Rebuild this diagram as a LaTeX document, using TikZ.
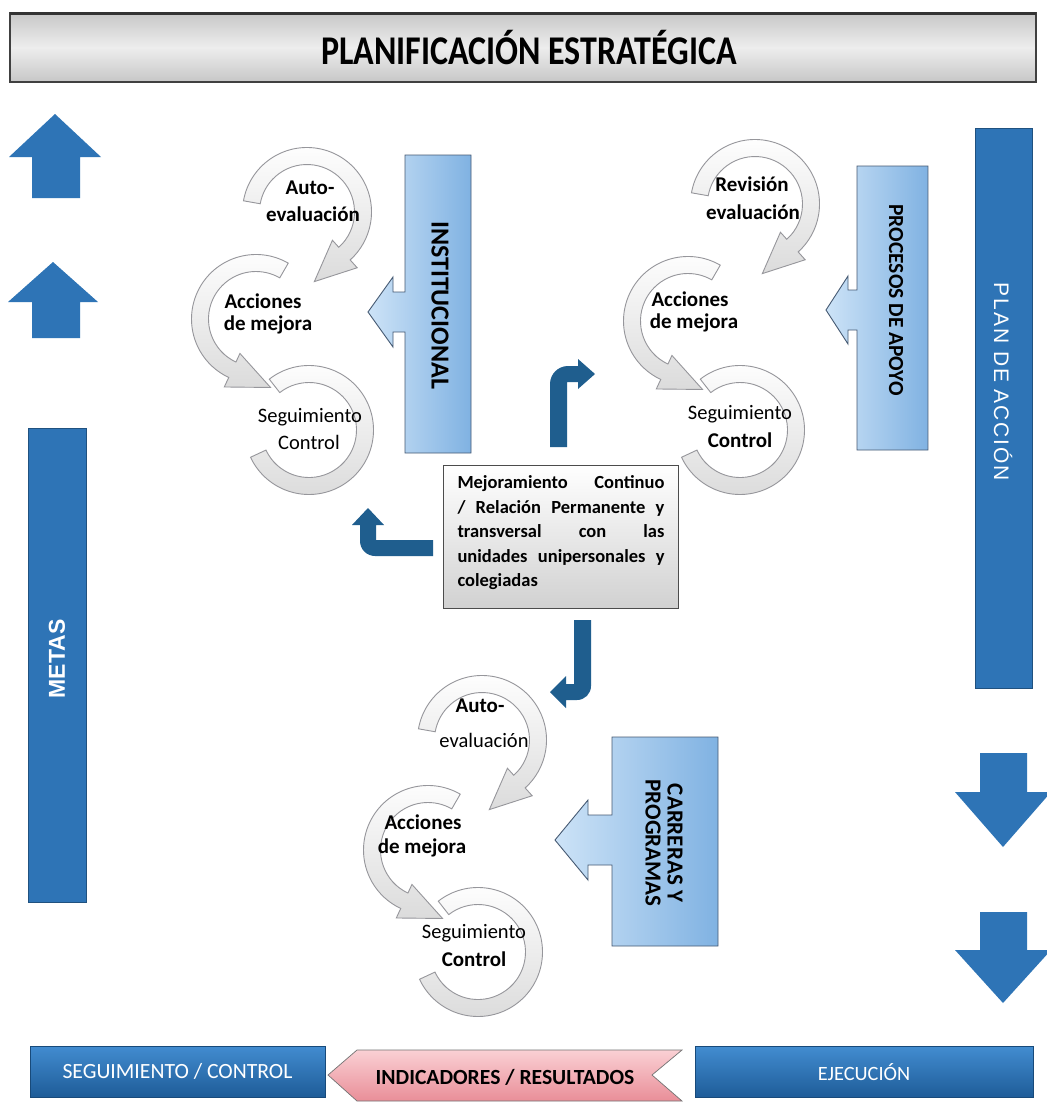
\documentclass[tikz,border=0pt]{standalone}
\usepackage{fontspec}
\setmainfont{Carlito}
\newfontfamily\arialf{Liberation Sans}
\newfontfamily\arialsp[LetterSpace=9]{Liberation Sans}
\definecolor{barblue}{RGB}{46,116,182}
\definecolor{bluetop}{RGB}{66,140,208}
\definecolor{bluebot}{RGB}{30,92,152}
\definecolor{bentblue}{RGB}{31,94,142}
\definecolor{callL}{RGB}{205,227,247}
\definecolor{callR}{RGB}{128,178,226}
\definecolor{callE}{RGB}{70,90,115}
\definecolor{pinktop}{RGB}{250,208,212}
\definecolor{pinkbot}{RGB}{233,142,152}
\definecolor{ringedge}{RGB}{150,150,155}
\tikzset{
  ring/.style={draw=ringedge, line width=0.9pt, top color=white, bottom color=black!14},
  callout/.style={draw=callE, line width=0.9pt, left color=callL, right color=callR},
  bent/.style={fill=bentblue},
  bigarrow/.style={fill=barblue},
  vbar/.style={fill=barblue, draw=barblue!70!black, line width=0.5pt, inner sep=0pt},
  bbox/.style={top color=bluetop, bottom color=bluebot, draw=bluebot!80!black, line width=0.5pt, minimum height=51pt, inner sep=0pt},
  lbl/.style={inner sep=0pt, font=\fontsize{20.5}{22}\selectfont},
  lblb/.style={inner sep=0pt, font=\fontsize{21}{22}\selectfont\bfseries},
}
% ring arrow with head: centre x, centre y, start angle, end angle, tip angle
\newcommand\ringhead[5]{%
  \begin{scope}[shift={(#1,#2)}]
    \path[ring] (#3:64.5) arc[start angle=#3, end angle=#4, radius=64.5]
      -- (#4:75) -- (#5:70) -- (#4:38) -- (#4:47.5)
      arc[start angle=#4, end angle=#3, radius=47.5] -- cycle;
  \end{scope}}
% ring arrow with flat ends
\newcommand\ringflat[4]{%
  \begin{scope}[shift={(#1,#2)}]
    \path[ring] (#3:64.5) arc[start angle=#3, end angle=#4, radius=64.5]
      -- (#4:47.5) arc[start angle=#4, end angle=#3, radius=47.5] -- cycle;
  \end{scope}}
\begin{document}
\begin{tikzpicture}[x=1pt,y=-1pt]
\useasboundingbox (0,0) rectangle (1047,1104);
\fill[white] (0,0) rectangle (1047,1104);

% title bar
\path[top color=black!22, bottom color=black!22, middle color=black!7, draw=black!75, line width=1.2pt] (10,13) rectangle (1036,82);
\draw[black!80, line width=3pt] (10,13) -- (1036,13);
\node[inner sep=0pt, font=\fontsize{34}{36}\selectfont\bfseries, yscale=1.2] (title) at (529,48) {PLANIFICACIÓN ESTRATÉGICA};

% left up arrows
\fill[bigarrow] (55,114) -- (101,157) -- (80,157) -- (80,198) -- (32,198) -- (32,157) -- (9,157) -- cycle;
\fill[bigarrow] (53,262) -- (98,302) -- (80,302) -- (80,338) -- (32,338) -- (32,302) -- (8,302) -- cycle;

% METAS
\node[vbar, minimum width=58pt, minimum height=474pt] (metas) at (57,665) {};
\node[rotate=90, text=white, inner sep=0pt, font=\arialf\bfseries\fontsize{23}{24}\selectfont] (metast) at (57,659) {METAS};

% PLAN DE ACCION
\node[vbar, minimum width=57pt, minimum height=560pt] (plan) at (1003.5,408) {};
\node[rotate=-90, text=white, inner sep=0pt, font=\arialsp\fontsize{21}{24}\selectfont] (plant) at (1003,382) {PLAN DE ACCIÓN};

% right down arrows
\fill[bigarrow] (980,753) -- (1027,753) -- (1027,792) -- (1051,792) -- (1003,847) -- (955,792) -- (980,792) -- cycle;
\fill[bigarrow] (980,912) -- (1027,912) -- (1027,950) -- (1051,950) -- (1003,1003) -- (955,950) -- (980,950) -- cycle;

% rings top-left
\ringflat{309}{430}{232}{515}
\ringhead{256}{319}{300}{115}{78}
\ringhead{307}{212}{190}{408}{444}
% rings top-right
\ringflat{740}{430}{232}{515}
\ringhead{688}{321}{300}{115}{78}
\ringhead{755}{204}{190}{408}{444}
% rings bottom
\ringflat{478}{952}{232}{515}
\ringhead{428}{850}{300}{115}{78}
\ringhead{482}{740}{190}{408}{444}

% ring labels
\node[lblb] (a1a) at (310,188) {Auto-};
\node[lblb] (a1b) at (313,214) {evaluación};
\node[lblb] (a2a) at (263,301) {Acciones};
\node[lblb] (a2b) at (268,325) {de mejora};
\node[lbl] (a3a) at (310,417) {Seguimiento};
\node[lbl] (a3b) at (309,442) {Control};

\node[lblb] (b1a) at (752,184) {Revisión};
\node[lblb] (b1b) at (753,212) {evaluación};
\node[lblb] (b2a) at (690,299) {Acciones};
\node[lblb] (b2b) at (694,323) {de mejora};
\node[lbl] (b3a) at (740,414) {Seguimiento};
\node[lblb] (b3b) at (740,440) {Control};

\node[lblb] (c1a) at (480,706) {Auto-};
\node[lbl] (c1b) at (484,740) {evaluación};
\node[lblb] (c2a) at (423,822) {Acciones};
\node[lblb] (c2b) at (422,848) {de mejora};
\node[lbl] (c3a) at (474,933) {Seguimiento};
\node[lblb] (c3b) at (474,959) {Control};

% callouts
\path[callout] (405,155) -- (471,155) -- (471,453) -- (405,453) -- (405,332) -- (393,332) -- (393,347) -- (368,312) -- (393,277) -- (393,292) -- (405,292) -- cycle;
\node[rotate=-90, inner sep=0pt, font=\fontsize{26}{26}\selectfont\bfseries] (inst) at (440,305) {INSTITUCIONAL};

\path[callout] (857,166) -- (928,166) -- (928,450) -- (857,450) -- (857,330) -- (848,330) -- (848,344) -- (826,310) -- (848,276) -- (848,290) -- (857,290) -- cycle;
\node[rotate=-90, inner sep=0pt, font=\fontsize{21.5}{22}\selectfont\bfseries] (proc) at (896,300) {PROCESOS DE APOYO};

\path[callout] (612,737) -- (718,737) -- (718,946) -- (612,946) -- (612,865) -- (588,865) -- (588,880) -- (555,840) -- (588,800) -- (588,815) -- (612,815) -- cycle;
\node[rotate=-90, inner sep=0pt, align=center, font=\fontsize{23}{22}\selectfont\bfseries] (carr) at (664,843) {CARRERAS Y\\PROGRAMAS};

% bent arrows
\fill[bent] (550,447) -- (550,384) arc[start angle=180, end angle=270, radius=18] -- (578,366) -- (578,359) -- (595,374) -- (578,389) -- (578,382) -- (567,382) -- (567,447) -- cycle;
\fill[bent] (433,540) -- (376,540) -- (376,525) -- (384,525) -- (368,508) -- (352,525) -- (360,525) -- (360,541) arc[start angle=180, end angle=90, radius=15] -- (433,556) -- cycle;
\fill[bent] (574,620) -- (591,620) -- (591,686) arc[start angle=0, end angle=90, radius=14] -- (566,700) -- (566,708) -- (550,692) -- (566,676) -- (566,684) -- (574,684) -- cycle;

% center box
\node[draw=black!70, line width=0.9pt, top color=white, bottom color=black!18, minimum width=235pt, minimum height=143pt, inner sep=0pt] (mc) at (560.5,536.5) {};
\node[inner sep=0pt, text width=207pt, font=\fontsize{18.5}{24.5}\selectfont\bfseries] (mctext) at (561,533) {%
\hbox to 207pt{Mejoramiento\hfill Continuo}
\hbox to 207pt{/\hfill Relación\hfill Permanente\hfill y}
\hbox to 207pt{transversal\hfill con\hfill las}
\hbox to 207pt{unidades\hfill unipersonales\hfill y}
\hbox to 207pt{colegiadas\hfill}};

% bottom row
\node[bbox, minimum width=295pt, text=white, font=\fontsize{21.7}{22}\selectfont] (seg) at (177.5,1071.5) {SEGUIMIENTO / CONTROL};
\path[top color=pinktop, bottom color=pinkbot, draw=black!55, line width=0.7pt] (328,1075) -- (357,1050) -- (682,1050) -- (652,1075) -- (682,1101) -- (357,1101) -- cycle;
\node[inner sep=0pt, font=\fontsize{21.6}{22}\selectfont\bfseries] (ind) at (505,1077) {INDICADORES / RESULTADOS};
\node[bbox, minimum width=338pt, text=white, font=\fontsize{20.3}{22}\selectfont] (eje) at (864,1072) {EJECUCIÓN};
\end{tikzpicture}
\end{document}
